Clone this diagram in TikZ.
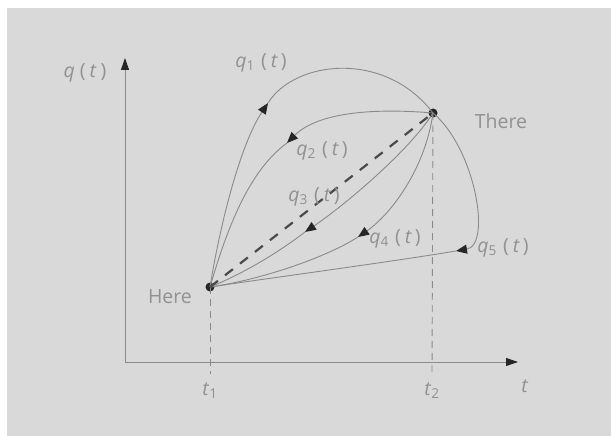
\documentclass[tikz,border=0pt]{standalone}
\usepackage{fontspec}
\setmainfont{Open Sans}
\usetikzlibrary{arrows.meta}
\definecolor{bg}{HTML}{D9D9D9}
\definecolor{ln}{HTML}{8A8A8A}
\definecolor{tx}{HTML}{919191}
\definecolor{tipc}{HTML}{262626}
\definecolor{dsh}{HTML}{4A4A4A}
\newcommand{\qlab}[1]{\textit{q}\textsubscript{#1}\hspace{6pt}(\hspace{4pt}\textit{t}\hspace{3pt})}
\begin{document}
\begin{tikzpicture}[x=1pt,y=-1pt,
  curve/.style={draw=ln, line width=0.9pt},
  tipped/.style={curve, -{Triangle[length=11pt,width=9pt,fill=tipc,color=tipc]}},
  axisline/.style={draw=ln, line width=0.9pt, -{Triangle[length=12pt,width=8pt,fill=tipc,color=tipc]}},
  lab/.style={text=tx, font=\fontsize{19.5}{22}\selectfont, inner sep=0pt},
  guide/.style={draw=ln, line width=0.9pt, dash pattern=on 7pt off 5pt},
  bigdash/.style={draw=dsh, line width=2.2pt, dash pattern=on 10pt off 9pt},
  dot/.style={circle, fill=tipc, inner sep=0pt, minimum size=9pt}]
\useasboundingbox (0,0) rectangle (611,436);
\fill[white] (0,0) rectangle (611,436);
\fill[bg] (7,8) rectangle (611,436);
% axes
\coordinate (O) at (125,362);
\coordinate (Ytip) at (125,58);
\coordinate (Xtip) at (518,362);
\draw[axisline] (O) -- (Ytip);
\draw[axisline] (O) -- (Xtip);
% points
\node[dot] (H) at (210,287) {};
\node[dot] (T) at (433,113) {};
\coordinate (t1b) at (210,374);
\coordinate (t2b) at (432,374);
\draw[guide] (H.center) -- (t1b);
\draw[guide] (T.center) -- (t2b);
% arrow points
\coordinate (a1) at (268,103);
\coordinate (a2) at (287,143);
\coordinate (a3) at (305,232);
\coordinate (a4) at (358,237);
\coordinate (a5) at (456,251);
% q1
\draw[tipped] (H.center) .. controls (220,225) and (240,145) .. (a1);
\draw[curve] (a1) .. controls (295,60) and (385,50) .. (T.center);
% q2
\draw[tipped] (T.center) .. controls (375,108) and (318,112) .. (a2);
\draw[curve] (a2) .. controls (250,170) and (228,225) .. (H.center);
% q3
\draw[tipped] (T.center) .. controls (410,150) and (345,205) .. (a3);
\draw[curve] (a3) .. controls (275,255) and (240,275) .. (H.center);
% q4
\draw[tipped] (T.center) .. controls (425,170) and (390,215) .. (a4);
\draw[curve] (a4) .. controls (325,258) and (260,280) .. (H.center);
% q5
\draw[tipped] (T.center) .. controls (475,148) and (492,245) .. (a5);
\draw[curve] (a5) .. controls (390,262) and (270,278) .. (H.center);
% straight dashed
\draw[bigdash] (H.center) -- (T.center);
% labels
\node[lab] (lq) at (85,73) {\textit{q}\hspace{5pt}(\hspace{4pt}\textit{t}\hspace{4pt})};
\node[lab] (l1) at (261,63) {\qlab{1}};
\node[lab] (l2) at (322,151) {\qlab{2}};
\node[lab] (l3) at (314,197) {\qlab{3}};
\node[lab] (l4) at (395,239) {\qlab{4}};
\node[lab] (l5) at (503,248) {\qlab{5}};
\node[lab] (lh) at (170,297) {Here};
\node[lab] (lt) at (501,121) {There};
\node[lab] (lt1) at (210,391) {\textit{t}\textsubscript{1}};
\node[lab] (lt2) at (432,391) {\textit{t}\textsubscript{2}};
\node[lab] (lt0) at (525,386) {\textit{t}};
\end{tikzpicture}
\end{document}
